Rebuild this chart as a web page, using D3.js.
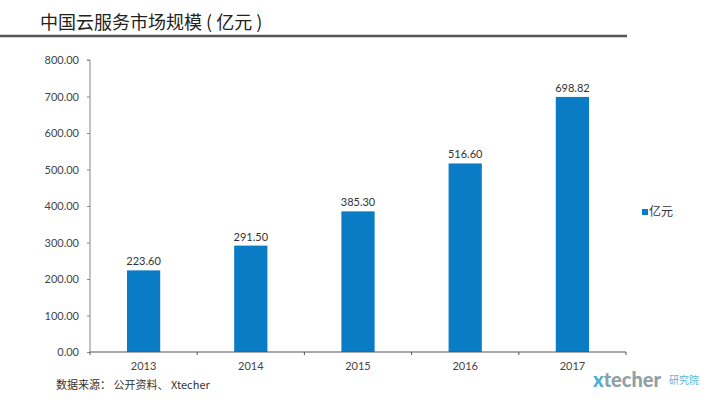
<!DOCTYPE html>
<html><head><meta charset="utf-8">
<script src="https://cdn.jsdelivr.net/npm/d3@7"></script>
<style>
body{margin:0;background:#fff;}
svg{display:block;font-family:"Noto Sans CJK SC","Noto Sans",sans-serif;}
</style></head>
<body><svg id="c" width="720" height="405"></svg>
<script>
const categories = ["2013","2014","2015","2016","2017"];
const values = [223.60, 291.50, 385.30, 516.60, 698.82];
const yTicks = [0,100,200,300,400,500,600,700,800];
const seriesName = "亿元";
const title = "中国云服务市场规模 ( 亿元 )";
const source = "数据来源： 公开资料、 Xtecher";

const svg = d3.select("#c");
const mLeft = 90, mRight = 626, mTop = 60, mBottom = 352;
const x = d3.scaleBand().domain(categories).range([mLeft, mRight]).paddingInner(0.69).paddingOuter(0.345);
const y = d3.scaleLinear().domain([0, 800]).range([mBottom, mTop]);
const blue = "#0a7cc6";

// title
svg.append("text").attr("x", 40).attr("y", 29).attr("font-size", 18).attr("fill", "#222").text(title);
svg.append("line").attr("x1", 0).attr("x2", 627).attr("y1", 36).attr("y2", 36).attr("stroke", "#555").attr("stroke-width", 2.5);

// bars
svg.selectAll("rect.bar").data(values).enter().append("rect")
  .attr("class","bar")
  .attr("x", (d,i) => x(categories[i]))
  .attr("width", x.bandwidth())
  .attr("y", d => y(d))
  .attr("height", d => y(0) - y(d))
  .attr("fill", blue);

svg.selectAll("text.lbl").data(values).enter().append("text")
  .attr("class","lbl")
  .attr("x", (d,i) => x(categories[i]) + x.bandwidth()/2)
  .attr("y", d => y(d) - 5)
  .attr("text-anchor","middle")
  .attr("font-size", 11).attr("fill","#333")
  .attr("font-family","Lato, 'Noto Sans', sans-serif")
  .text(d => d.toFixed(2));

// y axis
const yAxis = d3.axisLeft(y).tickValues(yTicks).tickFormat(d => d.toFixed(2)).tickSize(3).tickPadding(8);
const gy = svg.append("g").attr("transform", `translate(${mLeft},0)`).call(yAxis);
gy.select(".domain").attr("stroke","#888").attr("d", `M-3,${mTop}H0V${mBottom}`);
gy.selectAll(".tick line").attr("stroke","#888");
gy.selectAll("text").attr("font-size", 11).attr("fill","#444").attr("font-family","Lato, 'Noto Sans', sans-serif");

// x axis
const xAxis = d3.axisBottom(x).tickSize(0).tickPadding(10);
const gx = svg.append("g").attr("transform", `translate(0,${mBottom})`).call(xAxis);
gx.select(".domain").attr("stroke","#555").attr("d", `M${mLeft},0H${mRight}`);
gx.selectAll("text").attr("font-size", 11).attr("fill","#444").attr("font-family","Lato, 'Noto Sans', sans-serif");
const bounds = d3.range(categories.length + 1).map(i => mLeft + i * x.step());
gx.selectAll("line.bt").data(bounds).enter().append("line").attr("class","bt")
  .attr("x1", d => d).attr("x2", d => d).attr("y1", 0).attr("y2", 3).attr("stroke","#555");

// legend
svg.append("rect").attr("x", 642).attr("y", 209).attr("width", 6).attr("height", 6).attr("fill", blue);
svg.append("text").attr("x", 649).attr("y", 216).attr("font-size", 12).attr("fill","#333").text(seriesName);

// source
svg.append("text").attr("x", 56).attr("y", 389).attr("font-size", 11).attr("fill","#333").text(source);

// logo
const logo = svg.append("text").attr("x", 593).attr("y", 387).attr("font-family","Lato, 'Open Sans', sans-serif").attr("font-weight", 900);
logo.append("tspan").attr("font-size", 20).attr("fill","#4ab0d8").text("x");
logo.append("tspan").attr("font-size", 20).attr("fill","#8fa0a6").text("techer");
svg.append("text").attr("x", 669).attr("y", 384).attr("font-size", 10).attr("fill","#5bb7da").text("研究院");
</script></body></html>
